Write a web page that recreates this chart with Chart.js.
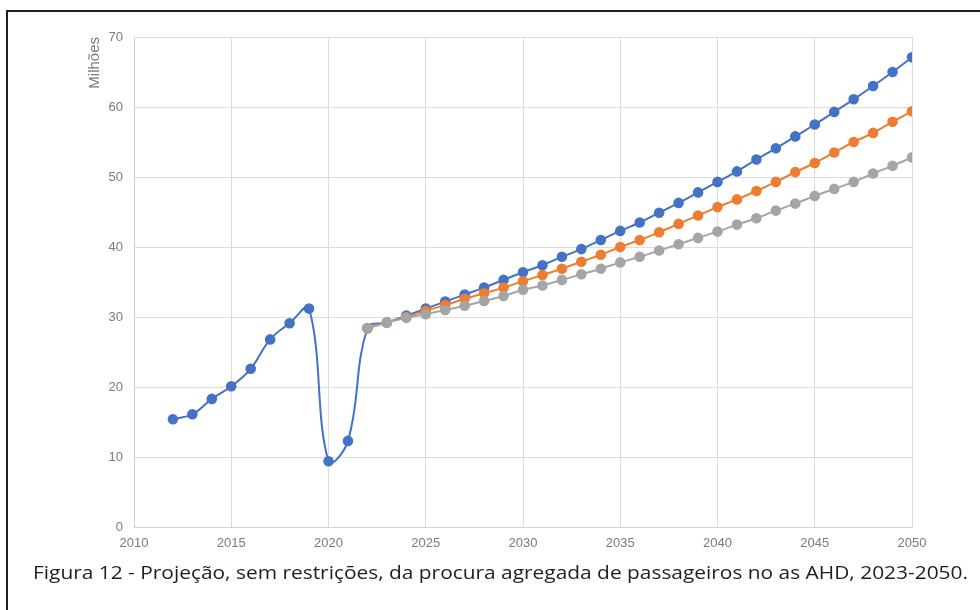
<!DOCTYPE html>
<html lang="pt">
<head>
<meta charset="utf-8">
<title>Procura agregada de passageiros</title>
<script src="https://cdn.jsdelivr.net/npm/chart.js@4.4.1/dist/chart.umd.min.js"></script>
<style>
  html, body { margin: 0; padding: 0; background: #fff; }
  body { width: 980px; height: 610px; position: relative; overflow: hidden; }
  #frame {
    position: absolute; left: 6px; top: 10px; width: 1000px; height: 700px;
    border: 2px solid #1e1e1e; box-sizing: border-box;
  }
  #chart { position: absolute; left: 0; top: 0; }
  #caption {
    position: absolute; left: 33px; top: 564px;
    font-family: "Open Sans", "Noto Sans", sans-serif; font-size: 17.5px; line-height: 17px;
    color: #1f1f1f; white-space: nowrap; transform-origin: 0 0;
  }
</style>
</head>
<body>
<div id="frame"></div>
<canvas id="chart" width="980" height="610"></canvas>
<div id="caption">Figura 12 - Projeção, sem restrições, da procura agregada de passageiros no as AHD, 2023-2050.</div>
<script>
// Passengers (millions): observed 2012-2022, then projected to 2050
const yearsHist = [2012, 2013, 2014, 2015, 2016, 2017, 2018, 2019, 2020, 2021, 2022];
const yearsProj = [2022, 2023, 2024, 2025, 2026, 2027, 2028, 2029, 2030, 2031, 2032, 2033, 2034, 2035, 2036,
                   2037, 2038, 2039, 2040, 2041, 2042, 2043, 2044, 2045, 2046, 2047, 2048, 2049, 2050];

const historico = [15.4, 16.1, 18.3, 20.1, 22.6, 26.8, 29.1, 31.2, 9.4, 12.3, 28.4];
const cenarioAlto = [28.4, 29.2, 30.2, 31.2, 32.2, 33.2, 34.2, 35.3, 36.4, 37.4, 38.6, 39.7, 41.0, 42.3, 43.5,
                     44.9, 46.3, 47.8, 49.3, 50.8, 52.5, 54.1, 55.8, 57.5, 59.3, 61.1, 63.0, 65.0, 67.1];
const cenarioCentral = [28.4, 29.2, 30.0, 30.9, 31.7, 32.6, 33.4, 34.2, 35.1, 36.0, 36.9, 37.9, 38.9, 40.0, 41.0,
                        42.1, 43.3, 44.5, 45.7, 46.8, 48.0, 49.3, 50.7, 52.0, 53.5, 55.0, 56.3, 57.9, 59.4];
const cenarioBaixo = [28.4, 29.2, 29.9, 30.4, 31.0, 31.6, 32.3, 33.0, 33.9, 34.5, 35.3, 36.1, 36.9, 37.8, 38.6,
                      39.5, 40.4, 41.3, 42.2, 43.2, 44.1, 45.2, 46.2, 47.3, 48.3, 49.3, 50.5, 51.6, 52.8];

const xTicks = [2010, 2015, 2020, 2025, 2030, 2035, 2040, 2045, 2050];
const yTicks = [0, 10, 20, 30, 40, 50, 60, 70];

const pts = (xs, ys) => xs.map((x, i) => ({ x: x, y: ys[i] }));

// blue line runs through the history and continues with the high scenario
const altoCompleto = pts(yearsHist, historico).concat(pts(yearsProj.slice(1), cenarioAlto.slice(1)));

const BLUE = '#4472C4', ORANGE = '#ED7D31', GREY = '#A5A5A5';
const serie = (data, color, order) => ({
  data: data, borderColor: color, backgroundColor: color,
  pointBackgroundColor: color, pointBorderColor: color,
  borderWidth: 2, pointRadius: 4.3, pointHoverRadius: 4.3,
  tension: 0.4, order: order
});

const tickFont = { family: '"Liberation Sans", Arial, sans-serif', size: 13 };
const tickColor = '#7a7a7a';
const gridColor = '#dcdcdc';

new Chart(document.getElementById('chart'), {
  type: 'line',
  data: {
    datasets: [
      serie(altoCompleto, BLUE, 3),
      serie(pts(yearsProj, cenarioCentral), ORANGE, 2),
      serie(pts(yearsProj, cenarioBaixo), GREY, 1)
    ]
  },
  options: {
    responsive: false,
    animation: false,
    devicePixelRatio: 1,
    layout: { padding: { left: 83, top: 37, right: 68, bottom: 53 } },
    plugins: { legend: { display: false }, tooltip: { enabled: false } },
    scales: {
      x: {
        type: 'linear', min: xTicks[0], max: xTicks[xTicks.length - 1],
        afterBuildTicks: s => { s.ticks = xTicks.map(v => ({ value: v })); },
        afterFit: s => { s.height = 30; },
        ticks: { callback: v => String(v), color: tickColor, font: tickFont, padding: 9, maxRotation: 0 },
        grid: { color: gridColor, drawTicks: false },
        border: { color: '#cfcfcf' }
      },
      y: {
        min: yTicks[0], max: yTicks[yTicks.length - 1],
        afterBuildTicks: s => { s.ticks = yTicks.map(v => ({ value: v })); },
        afterFit: s => { s.width = 51; },
        ticks: { color: tickColor, font: tickFont, padding: 11 },
        grid: { color: gridColor, drawTicks: false },
        border: { color: '#cfcfcf' },
        title: {
          display: true, text: 'Milhões', align: 'end', color: tickColor,
          font: { family: '"Liberation Sans", Arial, sans-serif', size: 15 },
          padding: { top: 3, bottom: 0 }
        }
      }
    }
  }
});

// stretch the caption to span the frame width
const cap = document.getElementById('caption');
const w = cap.getBoundingClientRect().width;
cap.style.transform = 'scaleX(' + (935 / w) + ')';
</script>
</body>
</html>
